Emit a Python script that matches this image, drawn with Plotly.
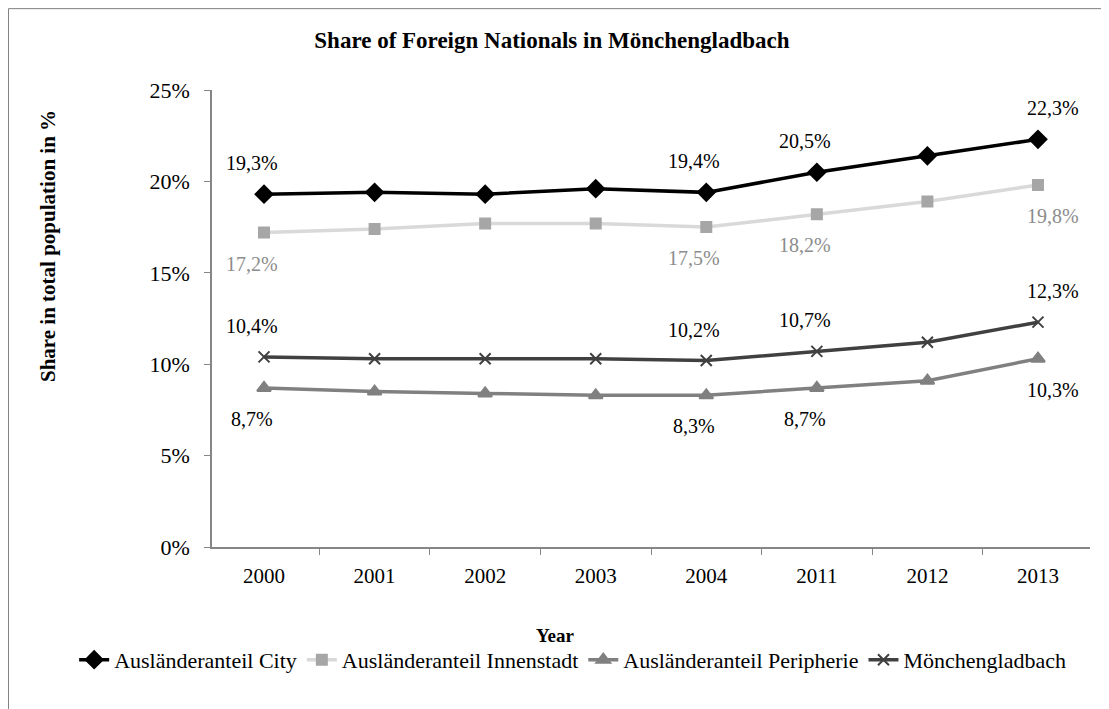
import plotly.graph_objects as go

years = ["2000", "2001", "2002", "2003", "2004", "2011", "2012", "2013"]
city = [19.3, 19.4, 19.3, 19.6, 19.4, 20.5, 21.4, 22.3]
innenstadt = [17.2, 17.4, 17.7, 17.7, 17.5, 18.2, 18.9, 19.8]
peripherie = [8.7, 8.5, 8.4, 8.3, 8.3, 8.7, 9.1, 10.3]
mgladbach = [10.4, 10.3, 10.3, 10.3, 10.2, 10.7, 11.2, 12.3]
labelled = [0, 4, 5, 7]
y_ticks = [0, 5, 10, 15, 20, 25]

FONT = "Liberation Serif, Times New Roman, serif"

fig = go.Figure()
series = [
    ("Ausländeranteil City", city, "#000000", "#000000", "diamond", 13, 1, "#000000"),
    ("Ausländeranteil Innenstadt", innenstadt, "#d9d9d9", "#a6a6a6", "square", 10, -1, "#8c8c8c"),
    ("Ausländeranteil Peripherie", peripherie, "#808080", "#808080", "triangle-up", 12, -1, "#000000"),
    ("Mönchengladbach", mgladbach, "#404040", "#404040", "x-thin", 11, 1, "#000000"),
]
annotations = []
for name, vals, lc, mc, sym, msize, side, tc in series:
    fig.add_trace(go.Scatter(
        x=years, y=vals, name=name, mode="lines+markers",
        line=dict(color=lc, width=3.5),
        marker=dict(symbol=sym, size=msize, color=mc, line=dict(color=mc, width=2)),
        cliponaxis=False,
    ))
    for i in labelled:
        # category axes use the category index as coordinate
        annotations.append(dict(
            x=i, y=vals[i], xref="x", yref="y",
            text=f"{vals[i]:.1f}%".replace(".", ","), showarrow=False,
            xanchor="center", yanchor="middle",
            yshift=31 * side, xshift=(15 if i == len(years) - 1 else -12),
            font=dict(family=FONT, size=20, color=tc),
        ))

annotations.append(dict(
    text="<b>Share in total population in %</b>", xref="paper", yref="paper",
    x=-0.1868, y=0.6586, textangle=-90, showarrow=False,
    xanchor="center", yanchor="middle", font=dict(family=FONT, size=21, color="#000000"),
))
annotations.append(dict(
    text="<b>Year</b>", xref="paper", yref="paper",
    x=0.3907, y=-0.1926, showarrow=False,
    xanchor="center", yanchor="middle", font=dict(family=FONT, size=19, color="#000000"),
))

fig.update_layout(
    width=1101, height=701,
    paper_bgcolor="white", plot_bgcolor="white",
    margin=dict(l=204, r=19, t=82, b=162),
    font=dict(family=FONT, size=18, color="#000000"),
    title=dict(text="<b>Share of Foreign Nationals in Mönchengladbach</b>",
               x=0.494, xanchor="center", y=0.954, yanchor="middle",
               font=dict(family=FONT, size=23, color="#000000")),
    showlegend=True,
    legend=dict(orientation="h", x=-0.157, xanchor="left", y=-0.247, yanchor="middle",
                font=dict(family=FONT, size=22, color="#000000"),
                tracegroupgap=0, bgcolor="rgba(0,0,0,0)"),
    annotations=annotations,
    shapes=[dict(type="rect", xref="paper", yref="paper",
                 x0=-0.2318, x1=1.1, y0=-0.5, y1=1.178,
                 line=dict(color="#7f7f7f", width=1), layer="below")],
)
fig.update_xaxes(
    type="category", showgrid=False, showline=True, linecolor="#868686", linewidth=1.5,
    ticks="outside", tickson="boundaries", ticklen=6, tickcolor="#868686",
    tickfont=dict(family=FONT, size=21, color="#000000"), tickangle=0,
    ticklabelstandoff=9,
)
fig.update_yaxes(
    range=[0, 25], tickvals=y_ticks, ticktext=[f"{v}%" for v in y_ticks],
    showgrid=False, showline=True, linecolor="#868686", linewidth=1.5,
    ticks="outside", ticklen=6, tickcolor="#868686", zeroline=False,
    tickfont=dict(family=FONT, size=22, color="#000000"),
    ticklabelstandoff=10,
)

fig.write_html("out.html")
